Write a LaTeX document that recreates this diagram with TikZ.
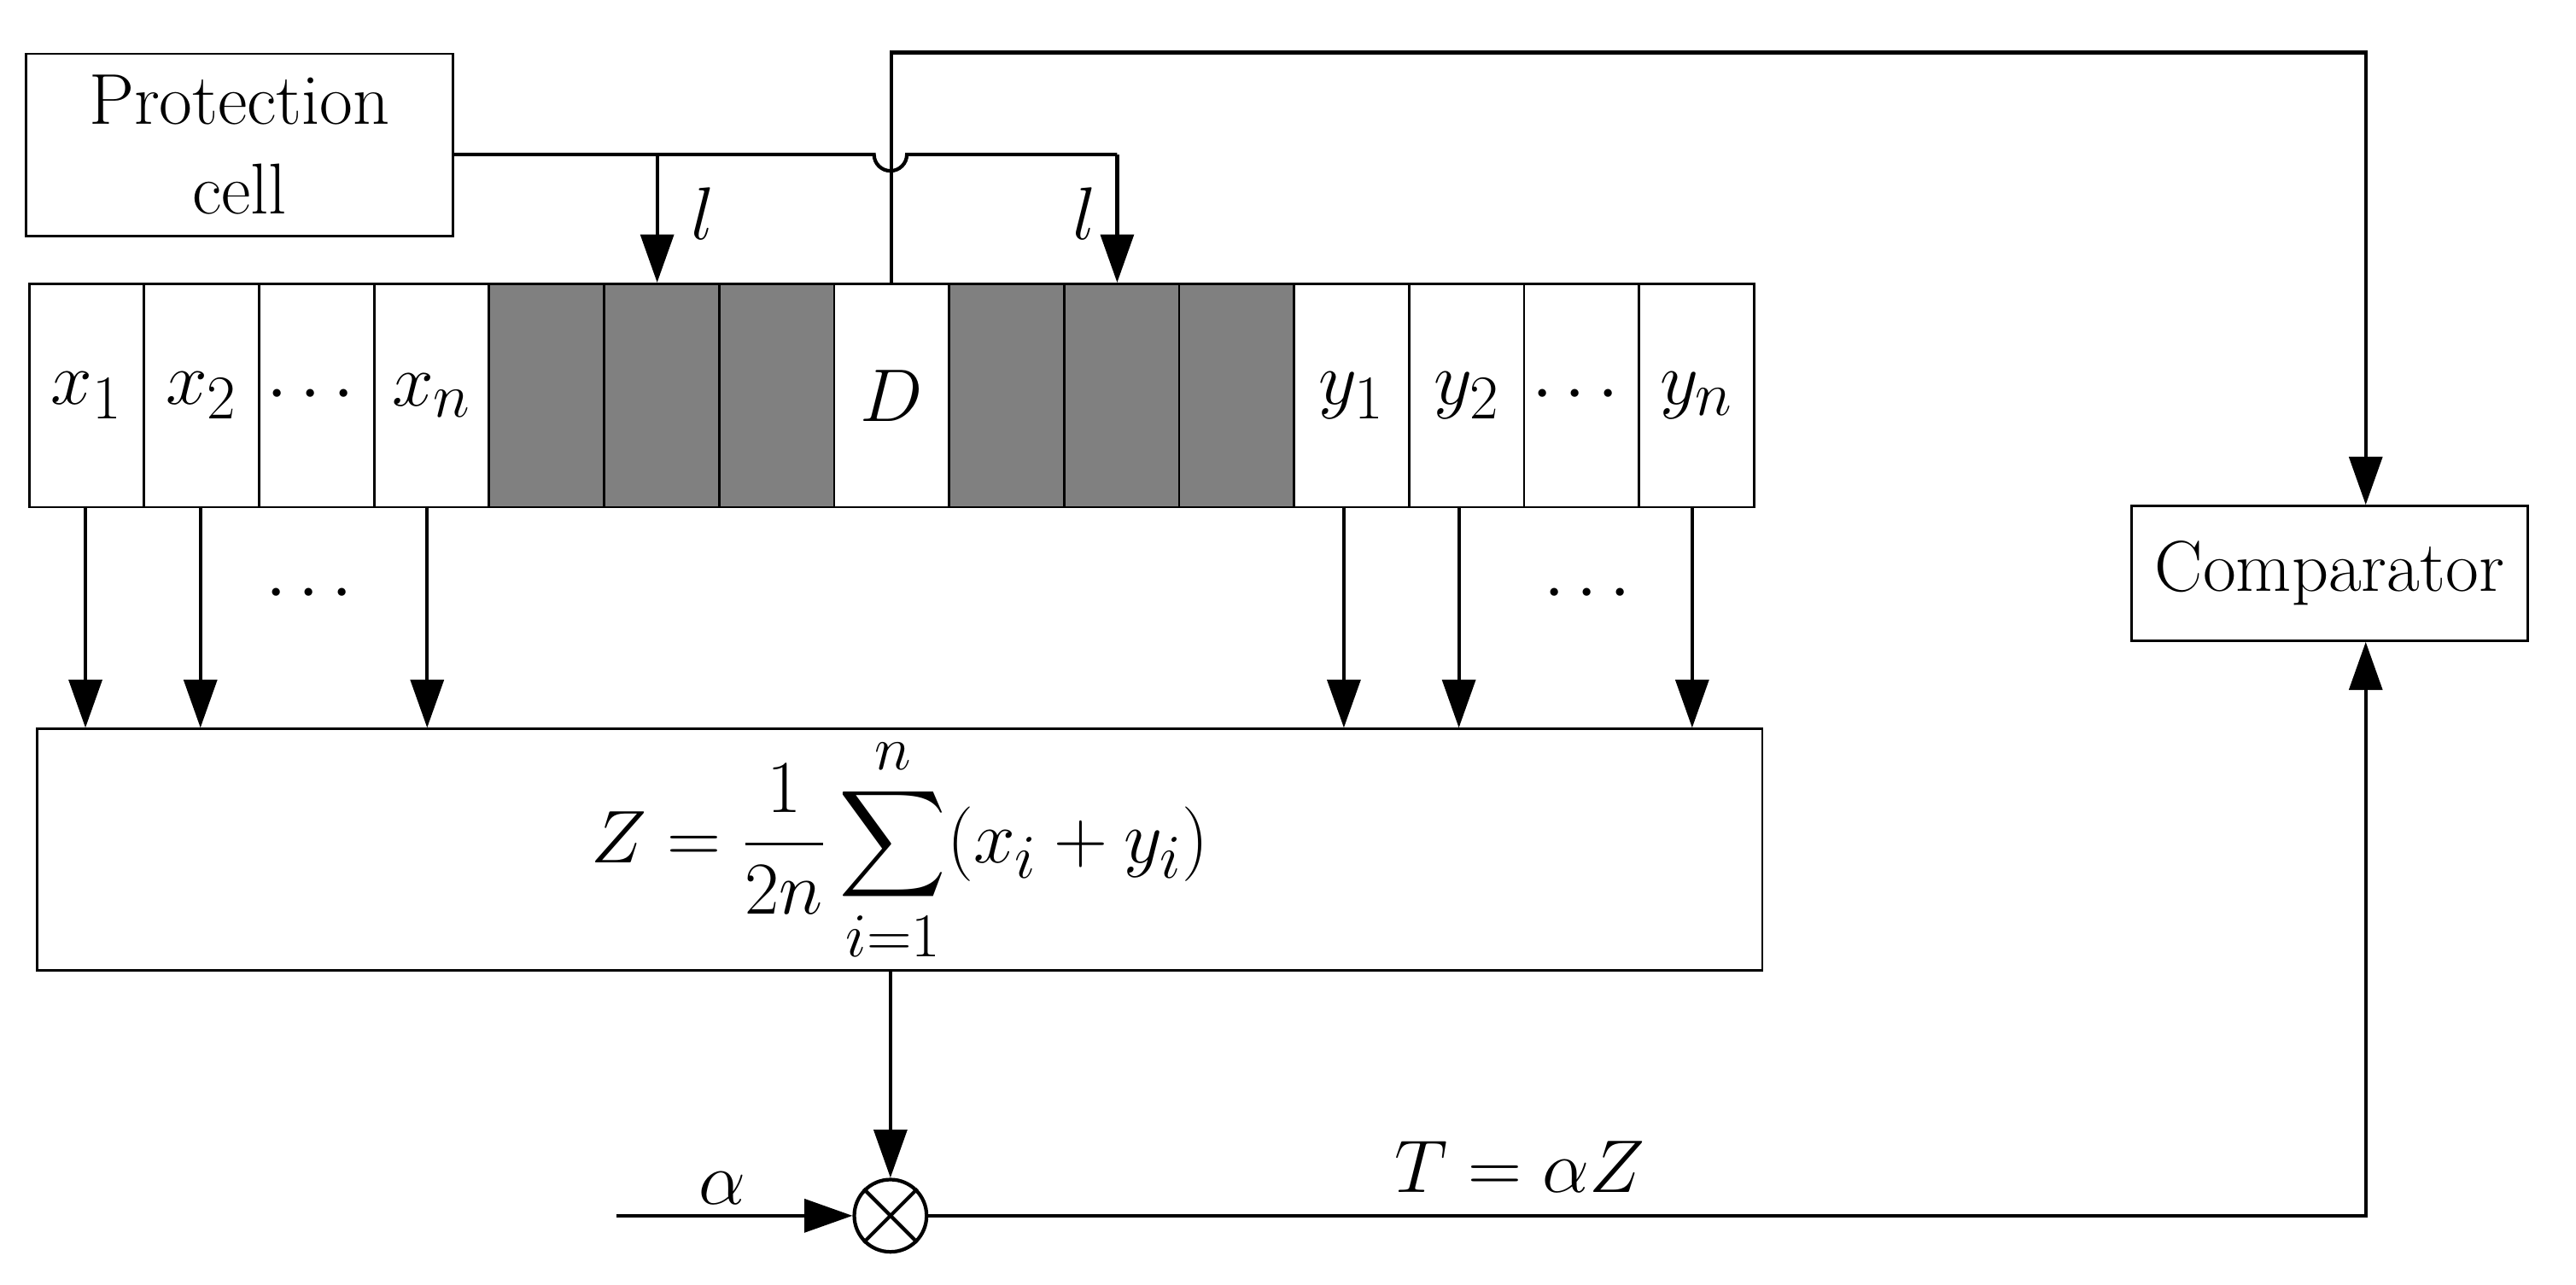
\documentclass[tikz,border=0pt]{standalone}
\usepackage{amsmath}
\usetikzlibrary{arrows.meta}
\begin{document}
\begin{tikzpicture}[x=0.01924cm,y=-0.01924cm,line width=1.2pt,
  box/.style={draw,line width=0.8pt,inner sep=0pt},
  cell/.style={box,minimum width=70*0.01924cm,minimum height=136*0.01924cm,anchor=north west},
  dark/.style={cell,fill=black!50},
  arr/.style={-{Triangle[length=16pt,width=11pt]}},
  big/.style={font=\fontsize{30}{34}\selectfont},
  txt/.style={font=\fontsize{24}{30}\selectfont}]
\useasboundingbox (0,0) rectangle (1568,782);
% Protection cell
\node[box,minimum width=260*0.01924cm,minimum height=111*0.01924cm,anchor=north west,align=center,txt] (prot) at (15,32) {Protection\\cell};
% Register cells
\foreach \i/\lab/\sty in {0/$x_1$/cell,1/$x_2$/cell,2/$\cdots$/cell,3/$x_n$/cell,4//dark,5//dark,6//dark,7/$D$/cell,8//dark,9//dark,10//dark,11/$y_1$/cell,12/$y_2$/cell,13/$\cdots$/cell,14/$y_n$/cell}
  \node[\sty,big] (c\i) at (17+70*\i,172) {\lab};
% Sum box
\node[box,minimum width=1050*0.01924cm,minimum height=147*0.01924cm,anchor=north west,font=\fontsize{28}{32}\selectfont] (sum) at (22,443) {$Z=\dfrac{1}{2n}\displaystyle\sum_{i=1}^{n}(x_i+y_i)$};
% Multiplier and comparator
\node[draw,circle,minimum size=44*0.01924cm,line width=1.2pt] (mul) at (542,740) {};
\draw (mul.north west) -- (mul.south east) (mul.north east) -- (mul.south west);
\node[box,minimum width=241*0.01924cm,minimum height=82*0.01924cm,txt] (comp) at (1418,349) {Comparator};
\coordinate (ain) at (375,740);

% Protection lines
\draw (prot.east |- 0,94) -- (532,94) arc[start angle=180,end angle=0,radius=10] -- (680,94);
\draw[arr] (400,94) -- (c5.north -| 400,0);
\draw[arr] (680,94) -- (c9.north -| 680,0);
\node[txt,font=\fontsize{26}{30}\selectfont] at (428,130) {$l$};
\node[txt,font=\fontsize{26}{30}\selectfont] at (660,130) {$l$};
% D to comparator
\draw[arr] (c7.north) -- (c7.north |- 0,32) -- (1440,32) -- (comp.north -| 1440,0);

% Inputs to sum
\foreach \x in {52,122,260,818,888,1030}
  \draw[arr] (\x,308) -- (\x,443);
\node[big] at (192,362) {$\cdots$};
\node[big] at (970,362) {$\cdots$};

% Product
\draw[arr] (sum.south -| mul) -- (mul.north);
\draw[arr] (ain) -- (mul.west) node[pos=0.45,above,big] {$\alpha$};
\draw[arr] (mul.east) -- (1440,740) -- (comp.south -| 1440,0);
\node[big] at (925,710) {$T=\alpha Z$};
\end{tikzpicture}
\end{document}
